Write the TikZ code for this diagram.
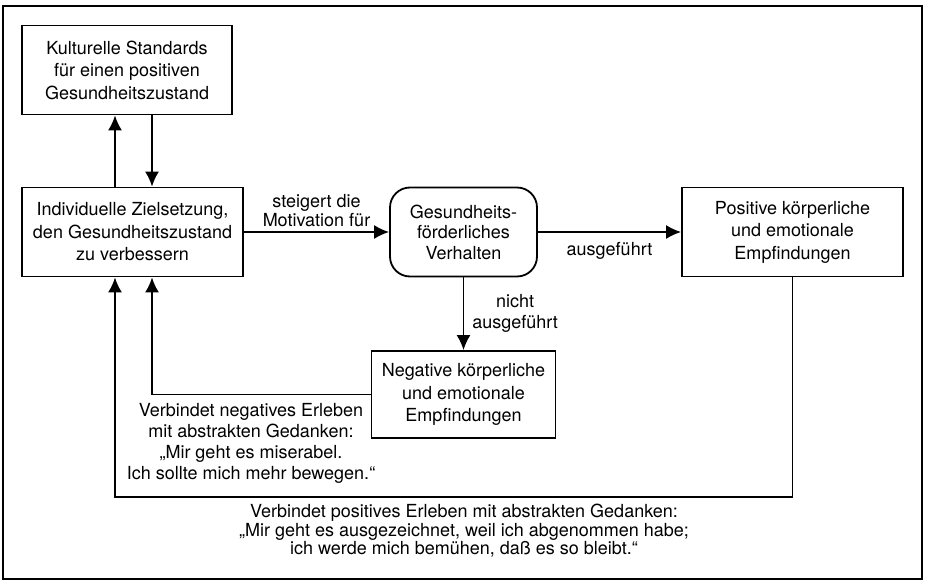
\documentclass[tikz,border=0pt]{standalone}
\usepackage{fontspec}
\setmainfont{TeX Gyre Heros}
\usetikzlibrary{arrows.meta}

\begin{document}
\begin{tikzpicture}[
        x=1pt, y=-1pt,
        box/.style = {draw, line width=1.8pt, align=center, inner sep=0pt, minimum width=#1, minimum height=89pt},
        note/.style = {align=center, inner sep=0pt},
        font=\fontsize{18}{22.5}\selectfont,
        line width=1.8pt,
        >={Latex[length=15pt,width=14pt]}
        ]
        \useasboundingbox (0,0) rectangle (927,581);
        \draw[line width=2.4pt] (3,6) rectangle (922,579);

        \node (kultur) at (127,70)       [box=210pt] {Kulturelle Standards\\für einen positiven\\Gesundheitszustand};
        \node (ziel) at (132.5,232)      [box=221pt] {Individuelle Zielsetzung,\\den Gesundheitszustand\\zu verbessern};
        \node (verhalten) at (463.5,232) [box=147pt, rounded corners=20pt, font=\fontsize{18}{20.5}\selectfont] {Gesundheits-\\förderliches\\Verhalten};
        \node (positiv) at (792.5,232)   [box=221pt] {Positive körperliche\\und emotionale\\Empfindungen};
        \node (negativ) at (463.5,394.5) [box=184pt, minimum height=87pt] {Negative körperliche\\und emotionale\\Empfindungen};

        \coordinate (up) at (115,0);
        \coordinate (down) at (152,0);
        \coordinate (bottom) at (0,497);

        \draw[->] (up |- ziel.north) -- (up |- kultur.south);
        \draw[->] (down |- kultur.south) -- (down |- ziel.north);
        \draw[->] (ziel.east) -- node[above=4pt, note, font=\fontsize{18}{19.5}\selectfont] (steigert) {steigert die\\Motivation für} (verhalten.west);
        \draw[->] (verhalten.east) -- node[below=9pt, note] (ja) {ausgeführt} (positiv.west);
        \draw[->] (verhalten.south) -- node[right=8pt, note, font=\fontsize{18}{21}\selectfont] (nein) {nicht\\ausgeführt} (negativ.north);
        \draw[->] (negativ.west) -| (down |- ziel.south);
        \draw[->] (positiv.south) |- (up |- bottom) -- (up |- ziel.south);

        \node (negtext) at (251,443.5) [note, font=\fontsize{18}{21}\selectfont] {Verbindet negatives Erleben\\mit abstrakten Gedanken:\\„Mir geht es miserabel.\\Ich sollte mich mehr bewegen.“};
        \node (postext) at (464,531) [note, font=\fontsize{18}{18.5}\selectfont] {Verbindet positives Erleben mit abstrakten Gedanken:\\„Mir geht es ausgezeichnet, weil ich abgenommen habe;\\ich werde mich bemühen, daß es so bleibt.“};
    \end{tikzpicture}
\end{document}
